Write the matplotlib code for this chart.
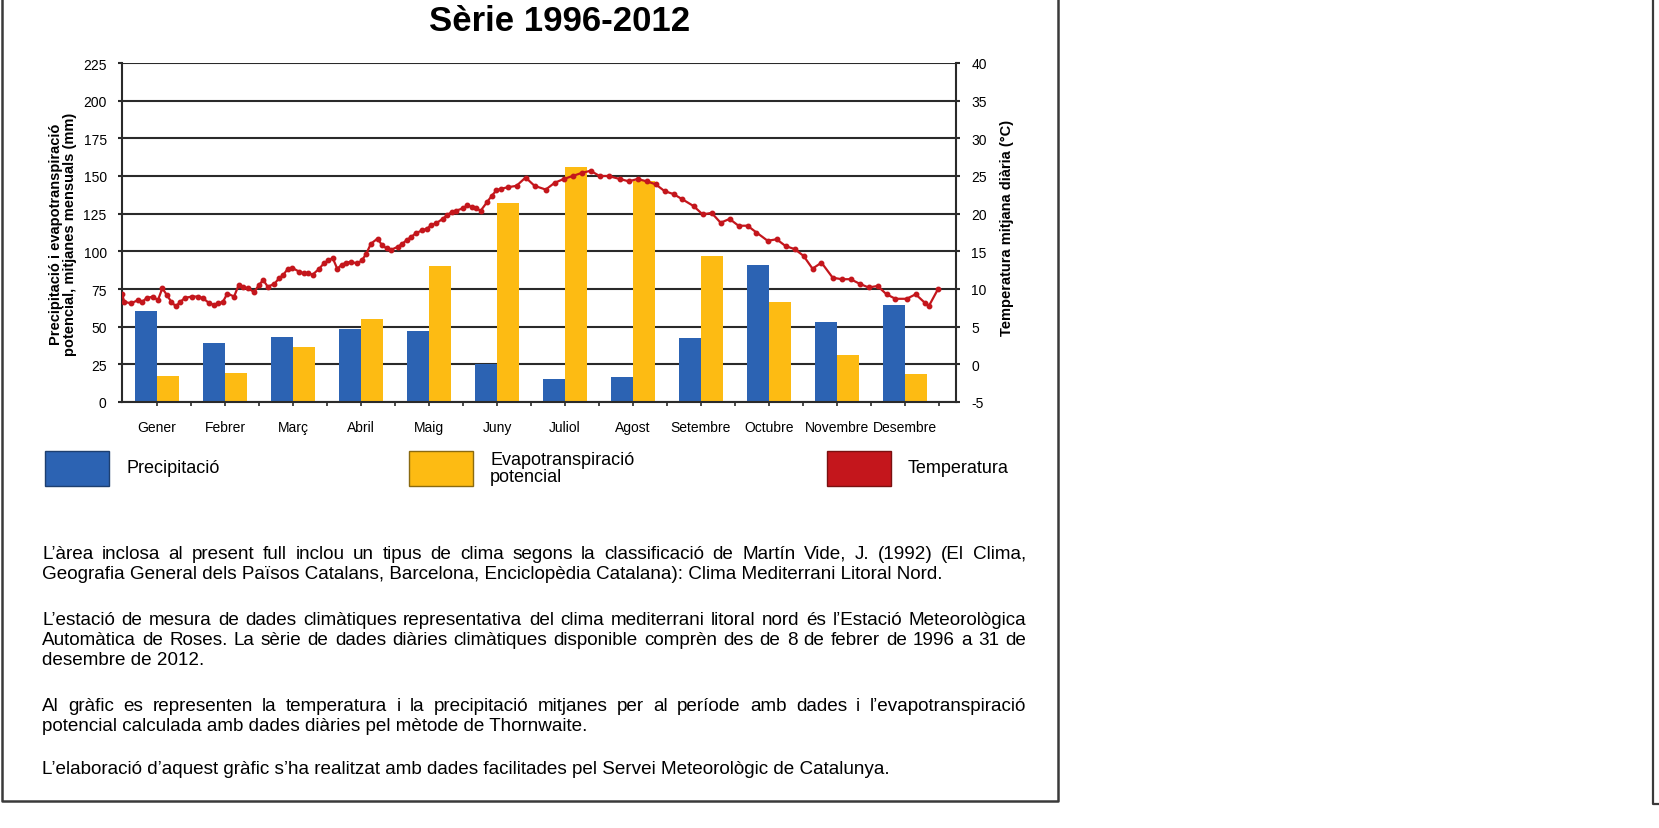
import matplotlib
matplotlib.use("Agg")
import matplotlib.pyplot as plt
from matplotlib.lines import Line2D
from matplotlib.patches import Rectangle

plt.rcParams['font.family'] = ['Liberation Sans', 'DejaVu Sans']
plt.rcParams['axes.unicode_minus'] = False

# --- dades ---
mesos = ['Gener', 'Febrer', 'Març', 'Abril', 'Maig', 'Juny', 'Juliol',
         'Agost', 'Setembre', 'Octubre', 'Novembre', 'Desembre']
precipitacio = [60.7, 39.3, 43.0, 48.5, 46.8, 24.9, 15.4, 16.5, 42.6, 90.9, 52.9, 64.6]
etp = [17.0, 19.2, 36.4, 55.2, 90.0, 132.4, 156.0, 146.7, 97.1, 66.2, 31.3, 18.8]

# temperatura mitjana diaria (llegida del grafic)
temp_dia = [1, 2, 5, 8, 10, 12, 15, 17, 19, 21, 23, 25, 27, 29, 32, 35, 37, 40, 42, 44,
            46, 48, 51, 53, 55, 57, 60, 62, 64, 66, 69, 71, 73, 75, 77, 80, 82, 84, 86, 89,
            91, 93, 95, 97, 99, 101, 103, 106, 108, 110, 112, 115, 117, 119, 121, 124, 126, 128, 130, 132,
            135, 137, 139, 141, 144, 146, 148, 150, 153, 155, 157, 159, 161, 164, 166, 168, 170, 173, 177, 181,
            185, 190, 194, 198, 202, 206, 210, 214, 218, 223, 227, 231, 235, 239, 243, 247, 251, 256, 260, 264,
            268, 272, 276, 280, 284, 289, 293, 297, 301, 305, 309, 313, 318, 322, 326, 330, 334, 338, 342, 346,
            351, 355, 359, 361, 365]
temp_val = [9.4, 8.3, 8.1, 8.5, 8.3, 8.8, 9.0, 8.5, 10.1, 9.2, 8.3, 7.7, 8.3, 8.8, 9.0, 9.0, 8.8, 8.1, 7.9, 8.1,
            8.3, 9.4, 9.0, 10.5, 10.3, 10.1, 9.6, 10.5, 11.2, 10.3, 10.7, 11.4, 11.9, 12.7, 12.8, 12.3, 12.1, 12.1, 11.9, 12.7,
            13.4, 13.8, 14.1, 12.7, 13.2, 13.5, 13.6, 13.4, 13.8, 14.7, 16.0, 16.7, 15.8, 15.4, 15.2, 15.6, 16.0, 16.5, 16.9, 17.4,
            17.8, 18.0, 18.5, 18.7, 19.3, 19.8, 20.2, 20.4, 20.7, 21.1, 20.9, 20.7, 20.4, 21.6, 22.4, 23.1, 23.3, 23.5, 23.7, 24.8,
            23.7, 23.2, 24.1, 24.6, 25.0, 25.4, 25.7, 25.0, 25.0, 24.6, 24.3, 24.6, 24.3, 23.9, 23.0, 22.6, 21.9, 21.0, 19.9, 20.1,
            18.8, 19.3, 18.4, 18.4, 17.5, 16.4, 16.6, 15.7, 15.3, 14.4, 12.7, 13.5, 11.5, 11.3, 11.3, 10.7, 10.2, 10.4, 9.3, 8.7,
            8.7, 9.3, 8.2, 7.8, 10.0]

paragrafs = [
    ["L\u2019àrea inclosa al present full inclou un tipus de clima segons la classificació de Martín Vide, J. (1992) (El Clima,",
     "Geografia General dels Països Catalans, Barcelona, Enciclopèdia Catalana): Clima Mediterrani Litoral Nord."],
    ["L\u2019estació de mesura de dades climàtiques representativa del clima mediterrani litoral nord és l\u2019Estació Meteorològica",
     "Automàtica de Roses. La sèrie de dades diàries climàtiques disponible comprèn des de 8 de febrer de 1996 a 31 de",
     "desembre de 2012."],
    ["Al gràfic es representen la temperatura i la precipitació mitjanes per al període amb dades i l\u2019evapotranspiració",
     "potencial calculada amb dades diàries pel mètode de Thornwaite."],
    ["L\u2019elaboració d\u2019aquest gràfic s\u2019ha realitzat amb dades facilitades pel Servei Meteorològic de Catalunya."],
]

BLUE = '#2c63b3'
YELLOW = '#fdbb13'
RED = '#c4161c'
GRID = '#2a2a2a'

W, H = 1659, 829
fig = plt.figure(figsize=(W / 100, H / 100), dpi=100)
fig.patch.set_facecolor('white')


def fx(x):
    return x / W


def fy(y):
    return 1 - y / H


# --- eixos ---
left, right, top, bottom = 122, 956, 64, 403
ax = fig.add_axes([fx(left), fy(bottom), fx(right - left), (bottom - top) / H])
ax.set_xlim(-0.515, 11.75)
ax.set_ylim(0, 225)
ax.set_yticks(range(0, 226, 25))
ax.set_axisbelow(True)
ax.yaxis.grid(True, color=GRID, lw=1.5)
for s in ['left', 'right', 'bottom']:
    ax.spines[s].set_color(GRID)
    ax.spines[s].set_linewidth(1.5)
ax.spines['top'].set_visible(False)

x = list(range(len(mesos)))
bw = 0.33
ax.bar([i - bw / 2 for i in x], precipitacio, width=bw, color=BLUE, zorder=2)
ax.bar([i + bw / 2 for i in x], etp, width=bw, color=YELLOW, zorder=2)

ax.set_xticks(x)
ax.set_xticklabels(mesos, fontsize=10)
ax.set_xticks([i + 0.5 for i in x], minor=True)
ax.tick_params(axis='x', which='both', direction='out', length=3, width=1.2, color=GRID, pad=10)
ax.tick_params(axis='y', direction='out', length=3, width=1.5, color=GRID, labelsize=10, pad=8)

ax2 = ax.twinx()
ax2.set_ylim(-5, 40)
ax2.set_yticks(range(-5, 41, 5))
ax2.tick_params(axis='y', direction='out', length=3, width=1.5, color=GRID, labelsize=10, pad=8)
for s in ax2.spines.values():
    s.set_visible(False)

ax3 = ax2.twiny()
ax3.set_xlim(1, 373)
ax3.set_xticks([])
for s in ax3.spines.values():
    s.set_visible(False)
ax3.plot(temp_dia, temp_val, color=RED, lw=1.6, marker='o', ms=3.2, mec=RED, mfc=RED, zorder=5)

# --- rotols dels eixos ---
fig.text(fx(63), fy(234), 'Precipitació i evapotranspiració\npotencial, mitjanes mensuals (mm)',
         rotation=90, ha='center', va='center', fontsize=10.5, fontweight='bold',
         linespacing=1.0, multialignment='center')
fig.text(fx(1007), fy(228), 'Temperatura mitjana diària (°C)', rotation=90,
         ha='center', va='center', fontsize=10.5, fontweight='bold')

# --- titol ---
fig.text(fx(560), fy(31), 'Sèrie 1996-2012', ha='center', va='baseline', fontsize=25, fontweight='bold')

# --- llegenda ---
llegenda = [(45, BLUE, '#1d3f70', 'Precipitació'),
            (409, YELLOW, '#8a6a10', 'Evapotranspiració\npotencial'),
            (827, RED, '#7a1010', 'Temperatura')]
for x0, fc, ec, txt in llegenda:
    fig.patches.append(Rectangle((fx(x0), fy(487)), 64 / W, 35 / H, transform=fig.transFigure,
                                 facecolor=fc, edgecolor=ec, lw=1.0))
    fig.text(fx(x0 + 81), fy(469), txt, ha='left', va='center', fontsize=13, linespacing=0.95)

# --- text explicatiu (justificat) ---
renderer = fig.canvas.get_renderer()
mida = 13.6
x_ini, x_fi = 42, 1026
y_linies = [[559, 579], [625, 645, 665], [711, 731], [774]]
for par, ys in zip(paragrafs, y_linies):
    for k, (linia, yy) in enumerate(zip(par, ys)):
        ultima = k == len(par) - 1
        if ultima:
            fig.text(fx(x_ini), fy(yy), linia, ha='left', va='baseline', fontsize=mida)
            continue
        paraules = linia.split(' ')
        arts = [fig.text(0, fy(yy), p, ha='left', va='baseline', fontsize=mida) for p in paraules]
        amples = [a.get_window_extent(renderer).width for a in arts]
        espai = (x_fi - x_ini - sum(amples)) / (len(paraules) - 1)
        xc = x_ini
        for a, w in zip(arts, amples):
            a.set_x(fx(xc))
            xc += w + espai

# --- marcs ---
fig.add_artist(Line2D([fx(2), fx(2), fx(1058), fx(1058)], [fy(-5), fy(802), fy(802), fy(-5)],
                      transform=fig.transFigure, color='#3a3a3a', lw=1.8))
fig.add_artist(Line2D([fx(1653), fx(1653), fx(1662)], [fy(-5), fy(805), fy(805)],
                      transform=fig.transFigure, color='#3a3a3a', lw=1.6))

fig.savefig('out.png', dpi=100, facecolor='white')
